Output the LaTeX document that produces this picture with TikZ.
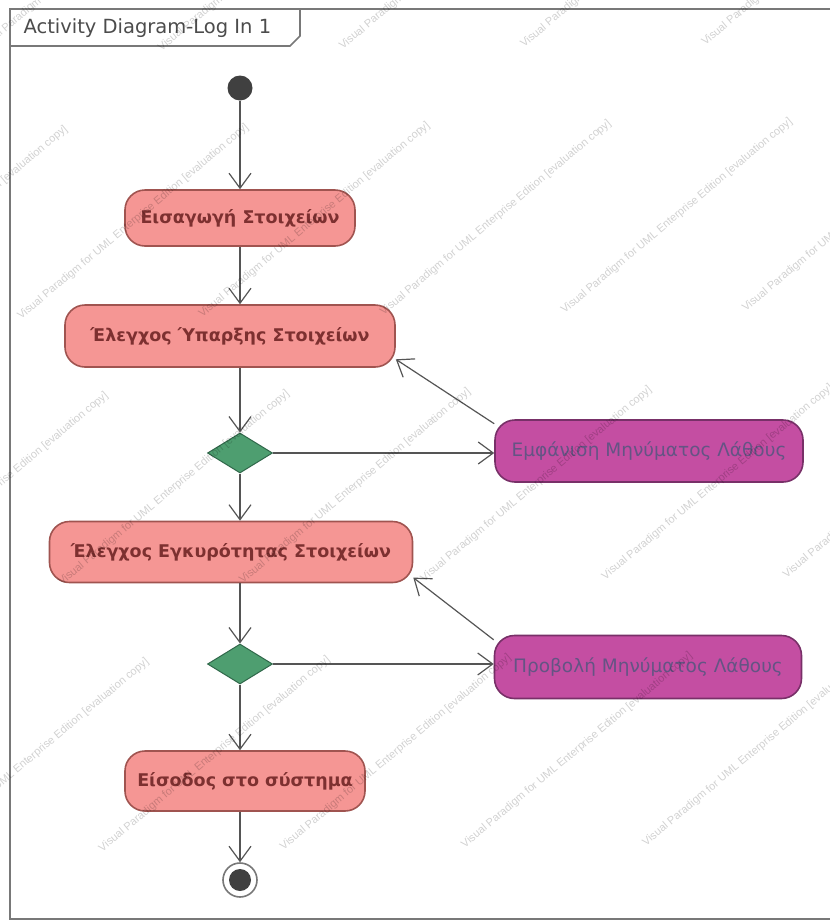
\documentclass[tikz,border=0pt]{standalone}
\usepackage{fontspec}
\setmainfont{DejaVu Sans}
\newfontfamily\wmfont{Liberation Sans}
\usetikzlibrary{arrows.meta,shapes.geometric,calc}

\definecolor{actfill}{RGB}{245,150,148}
\definecolor{actline}{RGB}{160,84,80}
\definecolor{acttext}{RGB}{125,48,48}
\definecolor{errfill}{RGB}{196,78,162}
\definecolor{errline}{RGB}{120,48,104}
\definecolor{errtext}{RGB}{100,84,132}
\definecolor{decfill}{RGB}{78,158,112}
\definecolor{decline}{RGB}{48,104,74}
\definecolor{edge}{RGB}{85,85,85}
\definecolor{framec}{RGB}{120,120,120}

\tikzset{
  action/.style={draw=actline, fill=actfill, line width=1.6pt, rounded corners=20pt,
    text=acttext, font=\bfseries\fontsize{17.5}{20}\selectfont, inner sep=0pt},
  errbox/.style={draw=errline, fill=errfill, line width=1.6pt, rounded corners=20pt,
    text=errtext, font=\fontsize{18.5}{20}\selectfont, inner sep=0pt},
  decision/.style={diamond, draw=decline, fill=decfill, line width=1pt, inner sep=0pt,
    minimum width=65pt, minimum height=40pt},
  startnode/.style={circle, fill=black!75, minimum size=25pt, inner sep=0pt},
  endnode/.style={circle, draw=framec, line width=1.6pt, fill=white, minimum size=34pt, inner sep=0pt},
  flow/.style={draw=edge, line width=1.2pt, -{Straight Barb[length=15pt,width=22pt,line width=1.2pt]}},
  framing/.style={draw=framec, line width=1.6pt},
  wm/.style={rotate=40, text=black, opacity=0.18, font=\wmfont\fontsize{11}{12}\selectfont, inner sep=0pt}
}

\begin{document}
\begin{tikzpicture}[x=1pt, y=-1pt]
\useasboundingbox (0,0) rectangle (830,924);
\fill[white] (0,0) rectangle (830,924);

% diagram frame and its name tab
\begin{scope}
  \clip (0,0) rectangle (830,924);
  \draw[framing] (10,9) rectangle (845,919);
\end{scope}
\draw[framing] (10,46) -- (290,46) -- (300,36) -- (300,9);
\node[anchor=west, text=black!70, font=\fontsize{19.5}{22}\selectfont] (title) at (20,28) {Activity Diagram-Log In 1};

% activity nodes
\node[startnode] (init) at (240,88) {};
\node[action, minimum width=230pt, minimum height=56pt] (b1) at (240,218) {Εισαγωγή Στοιχείων};
\node[action, minimum width=330pt, minimum height=62pt] (b2) at (230,336) {Έλεγχος Ύπαρξης Στοιχείων};
\node[decision] (d1) at (240,453) {};
\node[errbox, minimum width=308pt, minimum height=62pt] (m1) at (649,451) {Εμφάνιση Μηνύματος Λάθους};
\node[action, minimum width=363pt, minimum height=61pt] (b3) at (231,552) {Έλεγχος Εγκυρότητας Στοιχείων};
\node[decision] (d2) at (240,664) {};
\node[errbox, minimum width=307pt, minimum height=63pt] (m2) at (648,667) {Προβολή Μηνύματος Λάθους};
\node[action, minimum width=240pt, minimum height=60pt] (b4) at (245,781) {Είσοδος στο σύστημα};
\node[endnode] (final) at (240,880) {};
\fill[black!75] (final.center) circle (11pt);

% control flows
\draw[flow] (init) -- (init |- b1.north);
\draw[flow] (b1.south -| init) -- (b2.north -| init);
\draw[flow] (b2.south -| d1) -- (d1.north);
\draw[flow] (d1.east) -- (m1.west |- d1);
\draw[flow] (m1.170) -- (b2.-8);
\draw[flow] (d1.south) -- (b3.north -| d1);
\draw[flow] (b3.south -| d2) -- (d2.north);
\draw[flow] (d2.east) -- (m2.west |- d2);
\draw[flow] (m2.170) -- (b3.-8);
\draw[flow] (d2.south) -- (b4.north -| d2);
\draw[flow] (b4.south -| final) -- (final);

% evaluation watermark, tiled along 40-degree lines; only tiles centred near the sheet
\begin{scope}
  \clip (0,0) rectangle (830,924);
  \foreach \v in {-5,...,11} {
    \foreach \u in {-4,...,4} {
      \pgfmathsetmacro\px{100 + \u*420*0.766 + \v*115*0.643 + mod(\v+20,3)*140*0.766}
      \pgfmathsetmacro\py{400 - \u*420*0.643 + \v*115*0.766 - mod(\v+20,3)*140*0.643}
      \pgfmathtruncatemacro\inside{(\px>-70)&&(\px<900)&&(\py>-70)&&(\py<990)}
      \ifnum\inside=1
        \node[wm] at (\px,\py) {Visual Paradigm for UML Enterprise Edition [evaluation copy]};
      \fi
    }
  }
\end{scope}
\end{tikzpicture}
\end{document}
